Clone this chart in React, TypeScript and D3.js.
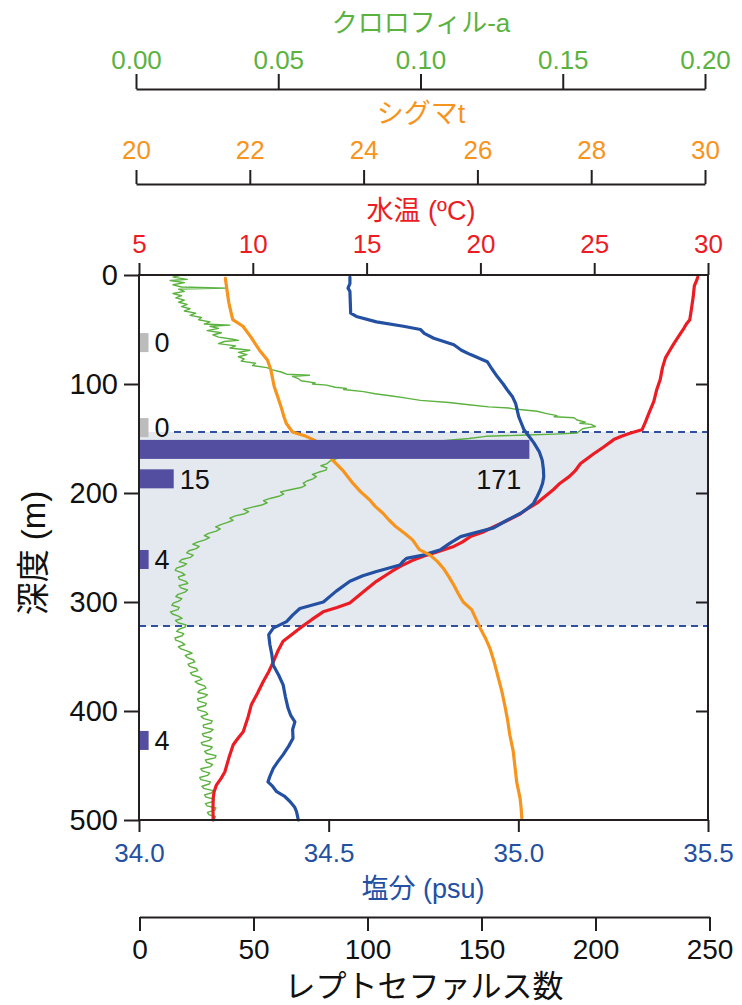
import * as d3 from "d3";
import React, { useEffect, useRef } from "react";

// ---- data (depth m, value) ----
const tempProfile: [number, number][] = [
  [2, 29.55], [5, 29.5], [10, 29.4], [14, 29.38], [20, 29.35], [30, 29.28], [41, 29.2], [45, 29.05],
  [49, 28.94], [55, 28.75], [63, 28.5], [70, 28.3], [76, 28.13], [85, 28.0], [96, 27.9], [105, 27.75],
  [116, 27.62], [127, 27.4], [135, 27.25], [142, 27.1], [145, 26.6], [148, 26.2], [151, 25.86],
  [158, 25.4], [164, 24.98], [173, 24.4], [180, 24.15], [185, 23.9], [191, 23.5], [197, 23.2],
  [203, 22.85], [209, 22.5], [214, 22.1], [219, 21.76], [225, 21.2], [231, 20.59], [236, 20.1],
  [240, 19.56], [245, 19.2], [249, 18.83], [254, 18.1], [258, 17.49], [262, 17.0], [266, 16.6],
  [272, 16.1], [281, 15.43], [290, 14.9], [301, 14.26], [305, 13.7], [309, 13.09], [316, 12.6],
  [324, 12.07], [330, 11.7], [336, 11.33], [345, 11.1], [355, 10.9], [364, 10.7], [373, 10.46],
  [384, 10.2], [394, 9.94], [405, 9.8], [419, 9.58], [425, 9.35], [431, 9.14], [443, 8.95],
  [456, 8.77], [462, 8.6], [468, 8.4], [474, 8.3], [480, 8.26], [490, 8.25], [500, 8.26],
];

const salinityProfile: [number, number][] = [
  [2, 34.556], [8, 34.556], [12, 34.551], [15, 34.556], [25, 34.557], [35, 34.558], [38, 34.573],
  [43, 34.626], [47, 34.697], [50, 34.742], [53.5, 34.752], [58, 34.777], [64, 34.83], [69, 34.85],
  [73, 34.874], [79.5, 34.918], [86, 34.93], [93, 34.944], [100, 34.96], [105.5, 34.971],
  [112, 34.985], [118, 34.993], [124, 34.997], [130, 35.001], [136, 35.008], [142, 35.015],
  [148, 35.028], [154, 35.041], [162, 35.055], [170, 35.063], [178, 35.066], [185, 35.067],
  [191, 35.064], [197, 35.058], [203, 35.05], [209.5, 35.04], [214, 35.025], [218.6, 35.006],
  [225, 34.97], [232, 34.935], [236, 34.89], [240, 34.848], [246, 34.82], [252, 34.795],
  [257, 34.749], [260, 34.705], [263, 34.695], [266, 34.688], [272, 34.626], [276, 34.59],
  [281, 34.556], [290, 34.52], [300, 34.486], [306, 34.424], [312, 34.405], [318, 34.389],
  [324, 34.354], [330, 34.342], [339, 34.345], [348, 34.35], [358, 34.354], [367, 34.368],
  [376, 34.38], [387, 34.386], [397.5, 34.393], [404, 34.4], [410, 34.411], [417, 34.405],
  [425, 34.406], [432, 34.395], [440, 34.38], [446, 34.367], [452.6, 34.354], [460, 34.345],
  [465, 34.34], [469, 34.352], [474, 34.363], [478, 34.383], [483, 34.398], [488, 34.41],
  [492, 34.415], [500, 34.42],
];

const sigmaProfile: [number, number][] = [
  [3, 21.57], [14, 21.6], [25, 21.63], [32, 21.66], [41, 21.7], [47, 21.88], [57, 22.02],
  [69, 22.17], [78, 22.31], [87, 22.37], [95, 22.4], [102.5, 22.43], [111.6, 22.49], [121, 22.55],
  [130, 22.6], [136, 22.64], [144, 22.75], [148, 22.99], [152, 23.15], [157.5, 23.28], [170, 23.46],
  [179, 23.63], [191, 23.81], [199, 23.95], [206, 24.1], [212, 24.2], [218.6, 24.34], [225, 24.45],
  [231, 24.57], [237, 24.72], [243, 24.86], [252, 24.98], [257, 25.17], [263, 25.3], [269, 25.4],
  [277, 25.5], [284, 25.58], [292, 25.66], [300, 25.75], [307, 25.9], [315, 25.97], [324, 26.05],
  [333, 26.14], [342.5, 26.22], [356, 26.3], [370, 26.37], [382, 26.43], [394.5, 26.48],
  [408, 26.53], [422, 26.57], [437, 26.63], [451, 26.66], [465, 26.69], [480, 26.75],
  [490, 26.77], [498, 26.78],
];

const chlProfile: [number, number][] = [
  [0, 0.016], [2, 0.013], [4, 0.018], [5, 0.012], [7, 0.017], [9, 0.013], [11, 0.016], [12, 0.032],
  [13, 0.015], [15, 0.017], [17, 0.013], [19, 0.016], [21, 0.014], [23, 0.017], [25, 0.015],
  [27, 0.018], [29, 0.016], [31, 0.019], [33, 0.017], [35, 0.021], [37, 0.019], [39, 0.023],
  [41, 0.022], [43, 0.026], [45, 0.024], [46, 0.033], [47, 0.026], [49, 0.029], [51, 0.025],
  [53, 0.03], [55, 0.027], [57, 0.029], [59, 0.034], [60, 0.036], [61, 0.031], [63, 0.029],
  [65, 0.035], [67, 0.033], [69, 0.04], [71, 0.036], [73, 0.039], [75, 0.036], [77, 0.038],
  [79, 0.037], [81, 0.042], [83, 0.041], [85, 0.046], [87, 0.048], [89, 0.051], [91, 0.053],
  [92, 0.061], [93, 0.055], [95, 0.057], [97, 0.058], [99, 0.063], [100, 0.062], [101, 0.067],
  [103, 0.07], [104, 0.074], [105, 0.073], [107, 0.08], [109, 0.084], [111, 0.09], [113, 0.095],
  [115, 0.1], [117, 0.11], [119, 0.117], [121, 0.124], [122, 0.131], [123, 0.133], [125, 0.141],
  [127, 0.144], [129, 0.148], [130, 0.147], [131, 0.154], [133, 0.155], [135, 0.158], [136, 0.156],
  [137, 0.16], [139, 0.1615], [140, 0.159], [141, 0.157], [143, 0.156], [145, 0.155], [146, 0.147],
  [147, 0.135], [148, 0.123], [150, 0.117], [155, 0.095], [162, 0.08], [168, 0.071],
  [171, 0.068], [173, 0.0672], [175, 0.065], [177, 0.0671], [179, 0.0668], [181, 0.0641],
  [183, 0.062], [185, 0.0634], [187, 0.0622], [189, 0.0601], [191, 0.0588], [193, 0.0596],
  [195, 0.058], [197, 0.0542], [199, 0.0508], [201, 0.0519], [203, 0.0502], [205, 0.0471],
  [207, 0.0448], [209, 0.0461], [211, 0.0442], [213, 0.0409], [215, 0.0378], [217, 0.0396],
  [219, 0.0382], [221, 0.0349], [223, 0.033], [225, 0.0341], [227, 0.0322], [229, 0.0298],
  [231, 0.028], [233, 0.0296], [235, 0.0282], [237, 0.0255], [239, 0.024], [241, 0.0258],
  [243, 0.0242], [245, 0.0216], [247, 0.02], [249, 0.0222], [251, 0.0212], [253, 0.0186],
  [255, 0.0178], [257, 0.0201], [259, 0.0192], [261, 0.0161], [263, 0.0152], [265, 0.0178],
  [267, 0.0165], [269, 0.0142], [271, 0.0138], [273, 0.0161], [275, 0.0172], [277, 0.0149],
  [279, 0.0152], [281, 0.0175], [283, 0.0182], [285, 0.0151], [287, 0.0158], [289, 0.0181],
  [291, 0.0172], [293, 0.0148], [295, 0.014], [297, 0.0161], [299, 0.0152], [301, 0.0131],
  [303, 0.0126], [305, 0.0152], [307, 0.0147], [309, 0.0121], [311, 0.0128], [313, 0.0149],
  [315, 0.0162], [317, 0.0139], [319, 0.0148], [321, 0.0176], [323, 0.0172], [325, 0.0151],
  [327, 0.0143], [329, 0.0168], [331, 0.0162], [333, 0.0137], [335, 0.014], [337, 0.0161],
  [339, 0.0172], [341, 0.0149], [343, 0.0158], [345, 0.0181], [347, 0.0197], [349, 0.0173],
  [351, 0.018], [353, 0.0201], [355, 0.0207], [357, 0.0183], [359, 0.0188], [361, 0.0212],
  [363, 0.0217], [365, 0.0191], [367, 0.0198], [369, 0.0224], [371, 0.0232], [373, 0.0208],
  [375, 0.0218], [377, 0.0241], [379, 0.0246], [381, 0.0224], [383, 0.0218], [385, 0.0251],
  [387, 0.0242], [389, 0.0216], [391, 0.022], [393, 0.0247], [395, 0.0244], [397, 0.0216],
  [399, 0.0218], [401, 0.0246], [403, 0.0252], [405, 0.0229], [407, 0.0238], [409, 0.0268],
  [411, 0.0264], [413, 0.0236], [415, 0.0238], [417, 0.0271], [419, 0.0262], [421, 0.0233],
  [423, 0.0238], [425, 0.0266], [427, 0.0258], [429, 0.0229], [431, 0.0234], [433, 0.0268],
  [435, 0.0262], [437, 0.0241], [439, 0.0248], [441, 0.0281], [443, 0.0278], [445, 0.0244],
  [447, 0.0248], [449, 0.0269], [451, 0.0262], [453, 0.0228], [455, 0.0233], [457, 0.0259],
  [459, 0.0252], [461, 0.0224], [463, 0.0228], [465, 0.0262], [467, 0.0257], [469, 0.0232],
  [471, 0.0238], [473, 0.0271], [475, 0.0267], [477, 0.0241], [479, 0.0246], [481, 0.0276],
  [483, 0.0272], [485, 0.0244], [487, 0.025], [489, 0.0281], [491, 0.0277], [493, 0.0251],
  [495, 0.0256], [497, 0.0279], [499, 0.0275], [500, 0.027],
];

// leptocephali catch per depth
const catchDepths = [62, 140, 160, 187, 261, 427];
const catchCounts = [0, 0, 171, 15, 4, 4];

// layer bounds (dashed lines)
const layerBounds = [144, 322];

const depthTicks = [0, 100, 200, 300, 400, 500];
const tempTicks = [5, 10, 15, 20, 25, 30];
const sigmaTicks = [20, 22, 24, 26, 28, 30];
const chlTicks = [0, 0.05, 0.1, 0.15, 0.2];
const salTicks = [34.0, 34.5, 35.0, 35.5];
const countTicks = [0, 50, 100, 150, 200, 250];

const W = 742;
const H = 1005;
const FONT = "'Liberation Sans', Arial, 'Noto Sans CJK JP', sans-serif";
const INK = "#231f20";
const GREEN = "#5bb23f";
const ORANGE = "#f7941d";
const RED = "#ec1c24";
const BLUE = "#2350a2";
const BAR = "#534ea0";

export default function App() {
  const ref = useRef<SVGSVGElement>(null);

  useEffect(() => {
    const svg = d3.select(ref.current);
    svg.selectAll("*").remove();

    const left = 139, right = 708, top = 275, bottom = 820;
    const y = d3.scaleLinear().domain([0, 500]).range([top, bottom]);
    const xTemp = d3.scaleLinear().domain([5, 30]).range([left, right]);
    const xSal = d3.scaleLinear().domain([34, 35.5]).range([left, right]);
    const xSig = d3.scaleLinear().domain([20, 30]).range([136, 705]);
    const xChl = d3.scaleLinear().domain([0, 0.2]).range([136, 705]);
    const xCount = d3.scaleLinear().domain([0, 250]).range([139.5, 709.5]);

    // shaded layer
    svg.append("rect")
      .attr("x", left).attr("width", right - left)
      .attr("y", y(layerBounds[0])).attr("height", y(layerBounds[1]) - y(layerBounds[0]))
      .attr("fill", "#e4e9ef");

    layerBounds.forEach((d, i) => {
      svg.append("line")
        .attr("x1", i === 0 ? 174 : left).attr("x2", right)
        .attr("y1", y(d)).attr("y2", y(d))
        .attr("stroke", "#2f4f9f").attr("stroke-width", 2)
        .attr("stroke-dasharray", "7,5");
    });

    // profiles
    const drawProfile = (data: [number, number][], x: d3.ScaleLinear<number, number>, color: string, w: number) => {
      const line = d3.line<[number, number]>().x((d) => x(d[1])).y((d) => y(d[0]));
      svg.append("path").datum(data).attr("d", line)
        .attr("fill", "none").attr("stroke", color).attr("stroke-width", w)
        .attr("stroke-linejoin", "round").attr("stroke-linecap", "round");
    };
    drawProfile(chlProfile, xChl, GREEN, 1.4);
    drawProfile(tempProfile, xTemp, RED, 3.2);
    drawProfile(salinityProfile, xSal, BLUE, 3.2);
    drawProfile(sigmaProfile, xSig, ORANGE, 3.2);

    // catch bars
    const barH = 19;
    const bars = svg.append("g");
    catchDepths.forEach((d, i) => {
      const c = catchCounts[i];
      const end = c === 0 ? xCount(0) + 9 : xCount(c);
      bars.append("rect")
        .attr("x", xCount(0)).attr("y", y(d) - barH / 2)
        .attr("width", end - xCount(0)).attr("height", barH)
        .attr("fill", c === 0 ? "#bdbcbd" : BAR);
      const big = c > 100;
      bars.append("text")
        .attr("x", big ? end - 8 : end + 6)
        .attr("y", big ? y(d) + 30 : y(d))
        .attr("dy", "0.36em")
        .attr("text-anchor", big ? "end" : "start")
        .attr("font-family", FONT).attr("font-size", 27).attr("fill", "#111")
        .text(c);
    });

    // frame
    svg.append("rect")
      .attr("x", left).attr("y", top).attr("width", right - left).attr("height", bottom - top)
      .attr("fill", "none").attr("stroke", INK).attr("stroke-width", 2);

    const styleAxis = (g: d3.Selection<SVGGElement, unknown, null, undefined>, color: string, size: number) => {
      g.attr("font-family", FONT).attr("font-size", size);
      g.select(".domain").attr("stroke", INK).attr("stroke-width", 2);
      g.selectAll(".tick line").attr("stroke", INK).attr("stroke-width", 2);
      g.selectAll(".tick text").attr("fill", color);
    };

    // depth axis
    const gy = svg.append("g").attr("transform", `translate(${left},0)`)
      .call(d3.axisLeft(y).tickValues(depthTicks).tickSize(15).tickSizeOuter(0).tickPadding(6));
    styleAxis(gy, "#111", 29);
    gy.select(".domain").remove();
    const gyR = svg.append("g").attr("transform", `translate(${right},0)`)
      .call(d3.axisLeft(y).tickValues(depthTicks.slice(1, -1)).tickSize(12).tickSizeOuter(0).tickFormat(() => ""));
    styleAxis(gyR, "#111", 10);
    gyR.select(".domain").remove();

    // temperature axis (top of frame)
    const gT = svg.append("g").attr("transform", `translate(0,${top})`)
      .call(d3.axisTop(xTemp).tickValues(tempTicks).tickSize(12).tickSizeOuter(0).tickPadding(10));
    styleAxis(gT, RED, 26);
    gT.select(".domain").remove();

    // sigma-t axis
    const gS = svg.append("g").attr("transform", `translate(0,184)`)
      .call(d3.axisTop(xSig).tickValues(sigmaTicks).tickSize(14).tickSizeOuter(0).tickPadding(11));
    styleAxis(gS, ORANGE, 26);

    // chlorophyll axis
    const gC = svg.append("g").attr("transform", `translate(0,89)`)
      .call(d3.axisTop(xChl).tickValues(chlTicks).tickSize(15).tickSizeOuter(0).tickPadding(5)
        .tickFormat(d3.format(".2f")));
    styleAxis(gC, GREEN, 26);

    // salinity axis (bottom of frame)
    const gSal = svg.append("g").attr("transform", `translate(0,${bottom})`)
      .call(d3.axisBottom(xSal).tickValues(salTicks).tickSize(12).tickSizeOuter(0).tickPadding(12)
        .tickFormat(d3.format(".1f")));
    styleAxis(gSal, BLUE, 26);
    gSal.select(".domain").remove();

    // count axis
    const gN = svg.append("g").attr("transform", `translate(0,917)`)
      .call(d3.axisBottom(xCount).tickValues(countTicks).tickSize(14).tickSizeOuter(0).tickPadding(8));
    styleAxis(gN, "#111", 28);

    // titles
    const title = (txt: string, x: number, yy: number, color: string, size: number) =>
      svg.append("text").attr("x", x).attr("y", yy).attr("text-anchor", "middle")
        .attr("font-family", FONT).attr("font-size", size).attr("fill", color).text(txt);
    title("クロロフィル-a", 421, 32, GREEN, 26);
    title("シグマt", 421, 123, ORANGE, 27);
    title("水温 (ºC)", 421, 220, RED, 27);
    title("塩分 (psu)", 423, 898, BLUE, 27);
    title("レプトセファルス数", 424, 997, "#111", 31);
    svg.append("text")
      .attr("transform", `translate(45,553) rotate(-90)`)
      .attr("text-anchor", "middle")
      .attr("font-family", FONT).attr("font-size", 33).attr("fill", "#111")
      .text("深度 (m)");
  }, []);

  return (
    <svg
      ref={ref}
      width={W}
      height={H}
      style={{ position: "absolute", left: 0, top: 0, display: "block", background: "#fff" }}
    />
  );
}
